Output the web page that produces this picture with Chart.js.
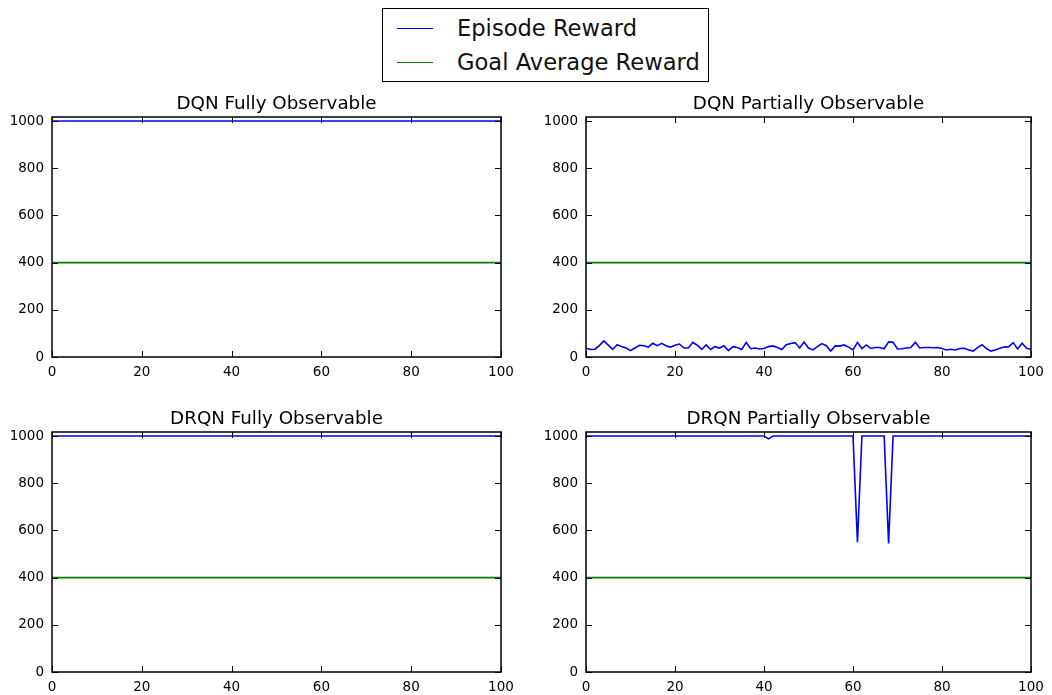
<!DOCTYPE html>
<html>
<head>
<meta charset="utf-8">
<script src="https://cdn.jsdelivr.net/npm/chart.js@4/dist/chart.umd.min.js"></script>
<style>
  html, body { margin:0; padding:0; background:#fff; }
  body { width:1052px; height:695px; position:relative; overflow:hidden; font-family:"DejaVu Sans", sans-serif; }
  canvas { position:absolute; }
  .title { position:absolute; font-size:18.3px; color:#000; text-align:center; white-space:nowrap; line-height:1; }
  #legend { position:absolute; left:382px; top:8px; width:325px; height:72px; border:1px solid #000; background:#fff; }
  .lrow { position:absolute; left:0; height:30px; font-size:22.6px; line-height:30px; color:#111; white-space:nowrap; }
  .lline { position:absolute; left:14px; top:15px; width:36px; height:0; border-top:1.5px solid; }
  .ltext { position:absolute; left:74px; top:0; }
</style>
</head>
<body>
<div id="legend"></div>
<canvas id="c0" width="520" height="278" style="left:0px;top:107px"></canvas>
<canvas id="c1" width="518" height="278" style="left:534px;top:107px"></canvas>
<canvas id="c2" width="520" height="273" style="left:0px;top:422px"></canvas>
<canvas id="c3" width="518" height="273" style="left:534px;top:422px"></canvas>
<div class="title" id="t0"></div>
<div class="title" id="t1"></div>
<div class="title" id="t2"></div>
<div class="title" id="t3"></div>
<script>
// ---------- data ----------
const panelTitles = ["DQN Fully Observable", "DQN Partially Observable", "DRQN Fully Observable", "DRQN Partially Observable"];
const seriesLabels = ["Episode Reward", "Goal Average Reward"];
const xTickValues = [0, 20, 40, 60, 80, 100];
const yTickValues = [0, 200, 400, 600, 800, 1000];
const episodes = [
  0,1,2,3,4,5,6,7,8,9,10,11,12,13,14,15,16,17,18,19,20,21,22,23,24,25,26,27,28,29,30,31,32,33,34,35,36,37,38,39,40,
  41,42,43,44,45,46,47,48,49,50,51,52,53,54,55,56,57,58,59,60,61,62,63,64,65,66,67,68,69,70,71,72,73,74,75,76,77,78,79,80,
  81,82,83,84,85,86,87,88,89,90,91,92,93,94,95,96,97,98,99,100];
const goalAverageReward = [400, 400];
const goalEpisodes = [0, 100];

const dqnFullyReward = [
  1000,1000,1000,1000,1000,1000,1000,1000,1000,1000,1000,1000,1000,1000,1000,1000,1000,1000,1000,1000,1000,
  1000,1000,1000,1000,1000,1000,1000,1000,1000,1000,1000,1000,1000,1000,1000,1000,1000,1000,1000,1000,
  1000,1000,1000,1000,1000,1000,1000,1000,1000,1000,1000,1000,1000,1000,1000,1000,1000,1000,1000,1000,
  1000,1000,1000,1000,1000,1000,1000,1000,1000,1000,1000,1000,1000,1000,1000,1000,1000,1000,1000,1000,
  1000,1000,1000,1000,1000,1000,1000,1000,1000,1000,1000,1000,1000,1000,1000,1000,1000,1000,1000,1000];
const dqnPartialReward = [
  37,32,33,48,68,50,32,52,44,38,27,38,50,48,42,58,48,58,48,42,50,
  55,38,38,62,50,32,51,32,44,38,48,27,44,40,32,62,35,38,34,36,
  44,47,40,32,52,57,61,38,63,38,30,44,57,48,25,47,46,51,42,30,
  62,36,51,36,40,40,35,64,62,34,35,38,40,62,38,40,40,39,40,36,
  30,33,30,36,37,30,25,40,52,36,25,30,37,42,44,61,34,58,37,33];
const drqnFullyReward = [
  1000,1000,1000,1000,1000,1000,1000,1000,1000,1000,1000,1000,1000,1000,1000,1000,1000,1000,1000,1000,1000,
  1000,1000,1000,1000,1000,1000,1000,1000,1000,1000,1000,1000,1000,1000,1000,1000,1000,1000,1000,1000,
  1000,1000,1000,1000,1000,1000,1000,1000,1000,1000,1000,1000,1000,1000,1000,1000,1000,1000,1000,1000,
  1000,1000,1000,1000,1000,1000,1000,1000,1000,1000,1000,1000,1000,1000,1000,1000,1000,1000,1000,1000,
  1000,1000,1000,1000,1000,1000,1000,1000,1000,1000,1000,1000,1000,1000,1000,1000,1000,1000,1000,1000];
const drqnPartialReward = [
  1000,1000,1000,1000,1000,1000,1000,1000,1000,1000,1000,1000,1000,1000,1000,1000,1000,1000,1000,1000,1000,
  1000,1000,1000,1000,1000,1000,1000,1000,1000,1000,1000,1000,1000,1000,1000,1000,1000,1000,1000,1000,
  988,1000,1000,1000,1000,1000,1000,1000,1000,1000,1000,1000,1000,1000,1000,1000,1000,1000,1000,1000,
  550,1000,1000,1000,1000,1000,1000,545,1000,1000,1000,1000,1000,1000,1000,1000,1000,1000,1000,1000,
  1000,1000,1000,1000,1000,1000,1000,1000,1000,1000,1000,1000,1000,1000,1000,1000,1000,1000,1000,1000];

const panelRewards = [dqnFullyReward, dqnPartialReward, drqnFullyReward, drqnPartialReward];
const rewardColor = "#0000ff";
const goalColor = "#008000";

// ---------- legend (HTML) ----------
const legendEl = document.getElementById("legend");
[[seriesLabels[0], rewardColor, 4], [seriesLabels[1], goalColor, 38]].forEach(([txt, col, top]) => {
  const row = document.createElement("div");
  row.className = "lrow";
  row.style.top = top + "px";
  row.innerHTML = '<div class="lline" style="border-color:' + col + '"></div><div class="ltext"></div>';
  row.querySelector(".ltext").textContent = txt;
  legendEl.appendChild(row);
});

// ---------- frame + inward ticks ----------
const framePlugin = {
  id: "frame",
  afterDatasetsDraw(chart) {
    const { ctx, chartArea: a, scales } = chart;
    const L = 6;
    ctx.save();
    ctx.strokeStyle = "#000";
    ctx.lineWidth = 1.5;
    ctx.strokeRect(a.left, a.top, a.right - a.left, a.bottom - a.top);
    ctx.lineWidth = 1;
    ctx.beginPath();
    scales.x.ticks.forEach(t => {
      const px = Math.round(scales.x.getPixelForValue(t.value)) + 0.5;
      ctx.moveTo(px, a.bottom); ctx.lineTo(px, a.bottom - L);
      ctx.moveTo(px, a.top); ctx.lineTo(px, a.top + L);
    });
    scales.y.ticks.forEach(t => {
      const py = Math.round(scales.y.getPixelForValue(t.value)) + 0.5;
      ctx.moveTo(a.left, py); ctx.lineTo(a.left + L, py);
      ctx.moveTo(a.right, py); ctx.lineTo(a.right - L, py);
    });
    ctx.stroke();
    ctx.restore();
  }
};

const tickFont = { family: "DejaVu Sans", size: 13.5 };
function zeroPad(s) { s.paddingTop = 0; s.paddingBottom = 0; s.paddingLeft = 0; s.paddingRight = 0; }

function makeChart(i) {
  const isBottom = i >= 2;
  const rewards = panelRewards[i];
  const rightPad = (i % 2 === 0) ? 19 : 21;
  return new Chart(document.getElementById("c" + i), {
    type: "line",
    data: {
      datasets: [
        { label: seriesLabels[0], data: episodes.map((e, k) => ({ x: e, y: rewards[k] })),
          borderColor: rewardColor, borderWidth: 1.6, pointRadius: 0, fill: false, tension: 0 },
        { label: seriesLabels[1], data: goalEpisodes.map((e, k) => ({ x: e, y: goalAverageReward[k] })),
          borderColor: goalColor, borderWidth: 1.6, pointRadius: 0, fill: false, tension: 0 }
      ]
    },
    options: {
      responsive: false, animation: false, devicePixelRatio: 1,
      layout: { padding: { top: 10, right: rightPad, left: 0, bottom: 0 } },
      plugins: { legend: { display: false }, tooltip: { enabled: false }, title: { display: false } },
      scales: {
        x: {
          type: "linear", min: 0, max: 100,
          grid: { display: false, drawTicks: false }, border: { display: false },
          afterBuildTicks: s => { s.ticks = xTickValues.map(v => ({ value: v })); },
          afterFit: s => { s.height = isBottom ? 23 : 28; zeroPad(s); },
          ticks: { font: tickFont, color: "#000", padding: 7, maxRotation: 0, autoSkip: false,
                   callback: v => String(v) }
        },
        y: {
          type: "linear", min: 0, max: 1017,
          grid: { display: false, drawTicks: false }, border: { display: false },
          afterBuildTicks: s => { s.ticks = yTickValues.map(v => ({ value: v })); },
          afterFit: s => { s.width = 52; zeroPad(s); },
          ticks: { font: tickFont, color: "#000", padding: 8, callback: v => String(v) }
        }
      }
    },
    plugins: [framePlugin]
  });
}

const charts = [0, 1, 2, 3].map(makeChart);

// ---------- titles placed over each chart area ----------
charts.forEach((ch, i) => {
  const cv = document.getElementById("c" + i);
  const a = ch.chartArea;
  const left = parseFloat(cv.style.left), top = parseFloat(cv.style.top);
  const t = document.getElementById("t" + i);
  t.textContent = panelTitles[i];
  t.style.left = (left + a.left) + "px";
  t.style.width = (a.right - a.left) + "px";
  t.style.top = (top + a.top - 23) + "px";
});
</script>
</body>
</html>
